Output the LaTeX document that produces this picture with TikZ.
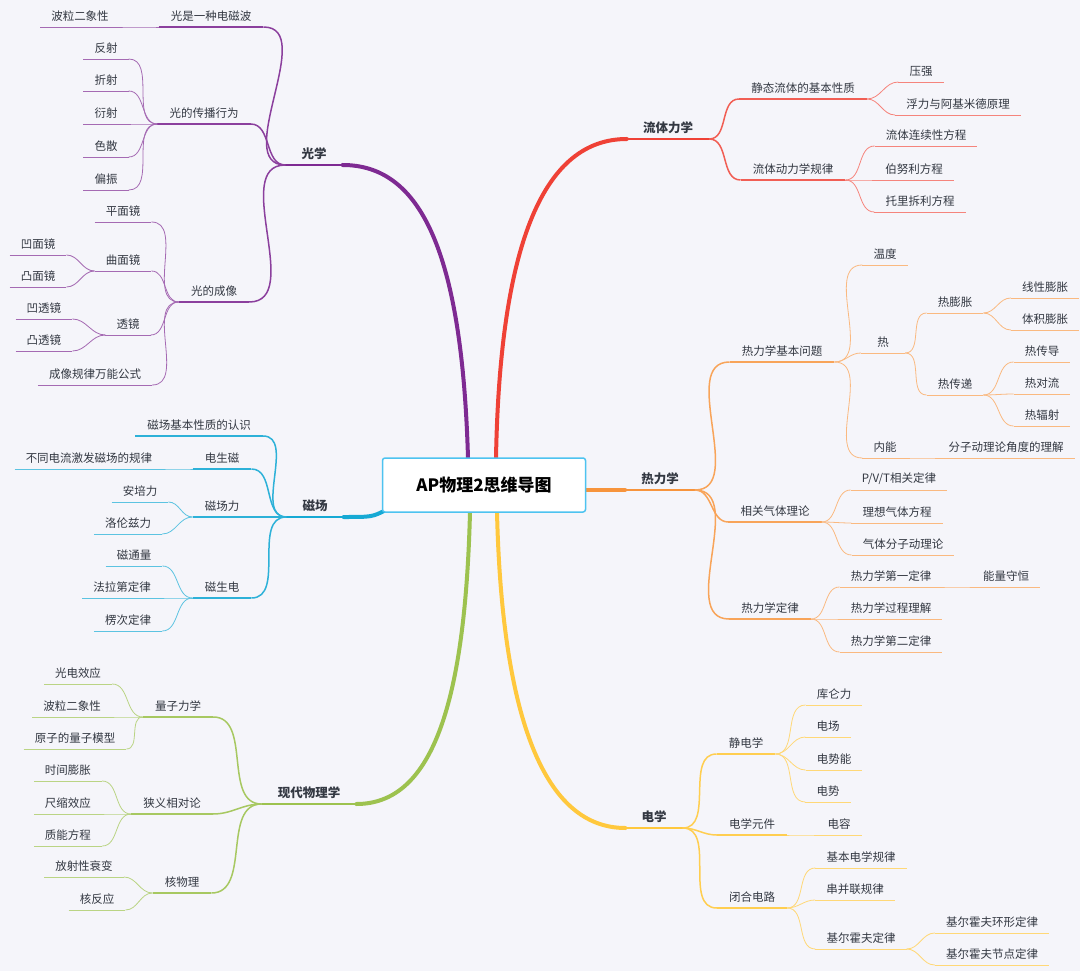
\documentclass[tikz,border=0pt]{standalone}
\usepackage{fontspec}
\newfontfamily\cjk{Noto Sans CJK SC}
\definecolor{bg}{HTML}{F5F5FA}
\definecolor{txt}{HTML}{333842}
\definecolor{cP}{HTML}{7E2A92}
\definecolor{cR}{HTML}{EF4136}
\definecolor{cO}{HTML}{F7943C}
\definecolor{cY}{HTML}{FFC83D}
\definecolor{cG}{HTML}{9DC24F}
\definecolor{cC}{HTML}{16A9D4}
\definecolor{boxc}{HTML}{4DC3F0}
\tikzset{
 base/.style={anchor=south, inner ysep=5.5pt, text=txt, font=\cjk\fontsize{11.5}{12}\selectfont, minimum width=44pt},
 L1/.style={base, inner xsep=16pt, font=\cjk\fontsize{12.5}{13}\selectfont\bfseries},
 L2/.style={base, inner xsep=12pt},
 L3/.style={base, inner xsep=11pt},
 main/.style={line width=4pt, line cap=round},
 e1/.style={line width=1.5pt},
 e2/.style={line width=1.1pt},
 e3/.style={line width=0.8pt},
}
\newcommand{\R}[3]{\foreach \c in {#3} \draw[#1] (#2.south east) to[out=0,in=180] (\c.south west);}
\newcommand{\Lf}[3]{\foreach \c in {#3} \draw[#1] (#2.south west) to[out=180,in=0] (\c.south east);}
\newcommand{\ul}[2]{\draw[#1] (#2.south west) -- (#2.south east);}
\begin{document}
\begin{tikzpicture}[x=1pt,y=-1pt]
\fill[bg] (0,0) rectangle (1080,971);
\useasboundingbox (0,0) rectangle (1080,971);

% ===== right: fluid (red)
\node[L1] (fl) at (668,139) {流体力学};
\node[L2] (fl1) at (803,99) {静态流体的基本性质};
\node[L3] (fl11) at (921,82) {压强};
\node[L3] (fl12) at (958,115) {浮力与阿基米德原理};
\node[L2] (fl2) at (793,180) {流体动力学规律};
\node[L3] (fl21) at (926,146) {流体连续性方程};
\node[L3] (fl22) at (914,180) {伯努利方程};
\node[L3] (fl23) at (920,212) {托里拆利方程};
\draw[main,cR] (496,458) .. controls (500,240) and (545,139) .. (fl.south west);
\ul{e1,cR}{fl}
\begin{scope}[cR!85]
\R{e1}{fl}{fl1,fl2}\ul{e2}{fl1}\ul{e2}{fl2}
\end{scope}
\begin{scope}[cR!65]
\R{e3}{fl1}{fl11,fl12}\R{e3}{fl2}{fl21,fl22,fl23}
\foreach \n in {fl11,fl12,fl21,fl22,fl23}{\ul{e3}{\n}}
\end{scope}

% ===== right: thermo (orange)
\node[L1] (rl) at (660,490) {热力学};
\node[L2] (r1) at (782,362) {热力学基本问题};
\node[L3] (r11) at (885,265) {温度};
\node[L3] (r12) at (883,353) {热};
\node[L3] (r121) at (955,313) {热膨胀};
\node[L3] (r1211) at (1045,298) {线性膨胀};
\node[L3] (r1212) at (1045,330) {体积膨胀};
\node[L3] (r122) at (955,395) {热传递};
\node[L3] (r1221) at (1042,362) {热传导};
\node[L3] (r1222) at (1042,394) {热对流};
\node[L3] (r1223) at (1042,426) {热辐射};
\node[L3] (r13) at (885,458) {内能};
\node[L3] (r131) at (1006,458) {分子动理论角度的理解};
\node[L2] (r2) at (775,522) {相关气体理论};
\node[L3] (r21) at (899,490) {P/V/T相关定律};
\node[L3] (r22) at (897,523) {理想气体方程};
\node[L3] (r23) at (903,555) {气体分子动理论};
\node[L2] (r3) at (770,619) {热力学定律};
\node[L3] (r31) at (891,587) {热力学第一定律};
\node[L3] (r311) at (1006,587) {能量守恒};
\node[L3] (r32) at (891,619) {热力学过程理解};
\node[L3] (r33) at (891,652) {热力学第二定律};
\draw[main,cO] (585,490) -- (rl.south west);
\ul{e1,cO}{rl}
\begin{scope}[cO!85]
\R{e1}{rl}{r1,r2,r3}\ul{e2}{r1}\ul{e2}{r2}\ul{e2}{r3}
\end{scope}
\begin{scope}[cO!65]
\R{e3}{r1}{r11,r12,r13}\R{e3}{r12}{r121,r122}\R{e3}{r121}{r1211,r1212}
\R{e3}{r122}{r1221,r1222,r1223}\R{e3}{r13}{r131}
\R{e3}{r2}{r21,r22,r23}\R{e3}{r3}{r31,r32,r33}\R{e3}{r31}{r311}
\foreach \n in {r11,r12,r121,r1211,r1212,r122,r1221,r1222,r1223,r13,r131,r21,r22,r23,r31,r311,r32,r33}{\ul{e3}{\n}}
\end{scope}

% ===== right: electricity (yellow)
\node[L1] (dx) at (654,828) {电学};
\node[L2] (d1) at (746,754) {静电学};
\node[L3] (d11) at (834,705) {库仑力};
\node[L3] (d12) at (828,737) {电场};
\node[L3] (d13) at (834,770) {电势能};
\node[L3] (d14) at (828,802) {电势};
\node[L2] (d2) at (752,835) {电学元件};
\node[L3] (d21) at (839,835) {电容};
\node[L2] (d3) at (752,908) {闭合电路};
\node[L3] (d31) at (861,868) {基本电学规律};
\node[L3] (d32) at (855,900) {串并联规律};
\node[L3] (d33) at (861,949) {基尔霍夫定律};
\node[L3] (d331) at (992,933) {基尔霍夫环形定律};
\node[L3] (d332) at (992,965) {基尔霍夫节点定律};
\draw[main,cY] (497,512) .. controls (502,720) and (545,828) .. (dx.south west);
\ul{e1,cY}{dx}
\begin{scope}[cY!90]
\R{e1}{dx}{d1,d2,d3}\ul{e2}{d1}\ul{e2}{d2}\ul{e2}{d3}
\end{scope}
\begin{scope}[cY!70]
\R{e3}{d1}{d11,d12,d13,d14}\R{e3}{d2}{d21}\R{e3}{d3}{d31,d32,d33}\R{e3}{d33}{d331,d332}
\foreach \n in {d11,d12,d13,d14,d21,d31,d32,d33,d331,d332}{\ul{e3}{\n}}
\end{scope}

% ===== left: optics (purple)
\node[L1] (gx) at (314,165) {光学};
\node[L2] (g1) at (211,27) {光是一种电磁波};
\node[L3] (g11) at (80,27) {波粒二象性};
\node[L2] (g2) at (204,124) {光的传播行为};
\node[L3] (g21) at (106,59) {反射};
\node[L3] (g22) at (106,91) {折射};
\node[L3] (g23) at (106,124) {衍射};
\node[L3] (g24) at (106,157) {色散};
\node[L3] (g25) at (106,190) {偏振};
\node[L2] (g3) at (214,302) {光的成像};
\node[L3] (g31) at (123,222) {平面镜};
\node[L3] (g32) at (123,271) {曲面镜};
\node[L3] (g321) at (38,255) {凹面镜};
\node[L3] (g322) at (38,287) {凸面镜};
\node[L3] (g33) at (128,335) {透镜};
\node[L3] (g331) at (44,319) {凹透镜};
\node[L3] (g332) at (44,351) {凸透镜};
\node[L3] (g34) at (95,385) {成像规律万能公式};
\draw[main,cP] (468,458) .. controls (462,250) and (420,165) .. (gx.south east);
\ul{e1,cP}{gx}
\begin{scope}[cP!90]
\Lf{e1}{gx}{g1,g2,g3}\ul{e2}{g1}\ul{e2}{g2}\ul{e2}{g3}
\end{scope}
\begin{scope}[cP!70]
\Lf{e3}{g1}{g11}\Lf{e3}{g2}{g21,g22,g23,g24,g25}\Lf{e3}{g3}{g31,g32,g33,g34}
\Lf{e3}{g32}{g321,g322}\Lf{e3}{g33}{g331,g332}
\foreach \n in {g11,g21,g22,g23,g24,g25,g31,g32,g321,g322,g33,g331,g332,g34}{\ul{e3}{\n}}
\end{scope}

% ===== left: magnetism (cyan)
\node[L1] (cc) at (315,517) {磁场};
\node[L2] (c1) at (199,436) {磁场基本性质的认识};
\node[L2] (c2) at (222,469) {电生磁};
\node[L3] (c21) at (89,469) {不同电流激发磁场的规律};
\node[L2] (c3) at (222,517) {磁场力};
\node[L3] (c31) at (140,502) {安培力};
\node[L3] (c32) at (128,534) {洛伦兹力};
\node[L2] (c4) at (222,598) {磁生电};
\node[L3] (c41) at (134,566) {磁通量};
\node[L3] (c42) at (122,598) {法拉第定律};
\node[L3] (c43) at (128,631) {楞次定律};
\draw[main,cC] (386,510) .. controls (372,517) .. (cc.south east);
\ul{e1,cC}{cc}
\begin{scope}[cC!90]
\Lf{e1}{cc}{c1,c2,c3,c4}\foreach \n in {c1,c2,c3,c4}{\ul{e2}{\n}}
\end{scope}
\begin{scope}[cC!70]
\Lf{e3}{c2}{c21}\Lf{e3}{c3}{c31,c32}\Lf{e3}{c4}{c41,c42,c43}
\foreach \n in {c21,c31,c32,c41,c42,c43}{\ul{e3}{\n}}
\end{scope}

% ===== left: modern (green)
\node[L1] (xd) at (309,804) {现代物理学};
\node[L2] (x1) at (178,717) {量子力学};
\node[L3] (x11) at (78,684) {光电效应};
\node[L3] (x12) at (72,717) {波粒二象性};
\node[L3] (x13) at (75,749) {原子的量子模型};
\node[L2] (x2) at (172,814) {狭义相对论};
\node[L3] (x21) at (68,781) {时间膨胀};
\node[L3] (x22) at (68,814) {尺缩效应};
\node[L3] (x23) at (68,846) {质能方程};
\node[L2] (x3) at (182,893) {核物理};
\node[L3] (x31) at (84,877) {放射性衰变};
\node[L3] (x32) at (97,910) {核反应};
\draw[main,cG] (470,512) .. controls (465,710) and (430,804) .. (xd.south east);
\ul{e1,cG}{xd}
\begin{scope}[cG!90]
\Lf{e1}{xd}{x1,x2,x3}\foreach \n in {x1,x2,x3}{\ul{e2}{\n}}
\end{scope}
\begin{scope}[cG!70]
\Lf{e3}{x1}{x11,x12,x13}\Lf{e3}{x2}{x21,x22,x23}\Lf{e3}{x3}{x31,x32}
\foreach \n in {x11,x12,x13,x21,x22,x23,x31,x32}{\ul{e3}{\n}}
\end{scope}

% ===== center
\node[draw=boxc, line width=1.5pt, fill=white, rounded corners=2.5pt, minimum width=203pt, minimum height=54pt, text=black, font=\cjk\fontsize{17}{18}\selectfont\bfseries] (root) at (484,485) {AP物理2思维导图};
\end{tikzpicture}
\end{document}
